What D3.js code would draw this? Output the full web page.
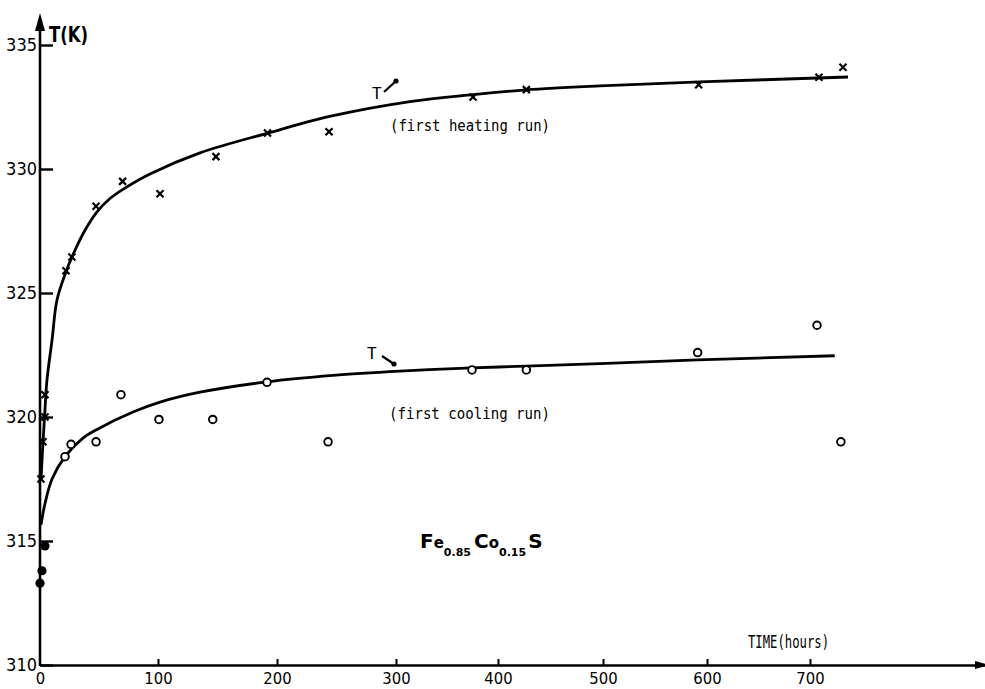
<!DOCTYPE html>
<html>
<head>
<meta charset="utf-8">
<script src="https://cdn.jsdelivr.net/npm/d3@7"></script>
<style>
  html, body { margin: 0; padding: 0; background: #fff; }
  svg { display: block; }
  .tick-label { font-family: "Liberation Sans Narrow", "DejaVu Sans Condensed", "Liberation Sans", sans-serif; fill: #000; }
  .mono { font-family: "DejaVu Sans Mono", "Liberation Mono", monospace; fill: #000; }
</style>
</head>
<body>
<div id="chart"></div>
<script>
// axis ticks (hand drawn axis, tick spacing is not quite even)
const xTicks = [0, 100, 200, 300, 400, 500, 600, 700];
const yTicks = [310, 315, 320, 325, 330, 335];

// first heating run, measured points (time h, T K)
const heatTime = [0.8, 2.5, 4.2, 4.2, 22, 27, 47.5, 70, 101.7, 148.7, 192, 243.7, 375.5, 427, 592, 708.7, 732];
const heatTemp = [317.5, 319, 320, 320.9, 325.9, 326.45, 328.5, 329.5, 329, 330.5, 331.45, 331.5, 332.9, 333.2, 333.4, 333.7, 334.1];

// first heating run, drawn curve
const heatCurveTime = [0.85, 2.5, 4.2, 5.9, 10.2, 14.4, 22, 27.1, 37.3, 48.3, 59.3, 70.3, 93.2, 135.3, 192.4, 246.2, 313.7, 375.5, 426.7, 497.1, 593.3, 736.9];
const heatCurveTemp = [317.46, 318.95, 320.28, 321.49, 323.1, 324.72, 325.85, 326.45, 327.46, 328.27, 328.81, 329.18, 329.8, 330.65, 331.45, 332.14, 332.72, 333.0, 333.19, 333.35, 333.51, 333.71];

// first cooling run, measured points
const coolTime = [21.2, 26.3, 47.5, 68.6, 100.8, 146, 191.6, 242.9, 374.5, 427, 591, 706.8, 730];
const coolTemp = [318.4, 318.9, 319, 320.9, 319.9, 319.9, 321.4, 319, 321.9, 321.9, 322.6, 323.7, 319];

// starting points on the axis (filled)
const startTime = [4.2, 1.7, 0];
const startTemp = [314.8, 313.8, 313.3];

// first cooling run, drawn curve
const coolCurveTime = [0.85, 4.2, 10.2, 21.2, 36.4, 48.3, 78.8, 101.7, 135.3, 191.6, 247, 304, 374.5, 427, 497, 591, 724];
const coolCurveTemp = [315.65, 316.5, 317.5, 318.4, 319.15, 319.5, 320.2, 320.6, 321.0, 321.42, 321.68, 321.85, 321.98, 322.05, 322.15, 322.3, 322.47];

const width = 985, height = 689;

const svg = d3.select('#chart')
    .append('svg')
    .attr('width', width)
    .attr('height', height);

// piecewise scale follows the uneven tick spacing of the original axis
const x = d3.scaleLinear()
    .domain(xTicks.concat([870]))
    .range([40, 158, 277, 396, 498, 603, 707, 810, 985]);

const y = d3.scaleLinear()
    .domain([310, 335])
    .range([665, 45]);

// x axis
const xAxis = svg.append('g')
    .attr('transform', `translate(0, ${y(310)})`)
    .call(d3.axisBottom(x)
        .tickValues(xTicks)
        .tickSize(-6)
        .tickSizeOuter(0)
        .tickFormat(d3.format('d')));
xAxis.attr('font-family', null).attr('font-size', null);
xAxis.select('.domain').attr('stroke', '#000').attr('stroke-width', 2.6);
xAxis.selectAll('.tick line')
    .attr('stroke', '#000')
    .attr('stroke-width', 2)
    .attr('opacity', d => d === 0 ? 0 : 1);
xAxis.selectAll('.tick text')
    .attr('class', 'tick-label')
    .attr('y', 19)
    .attr('dy', 0)
    .style('font-size', '16.5px');

// y axis
const yAxis = svg.append('g')
    .attr('transform', `translate(${x(0)}, 0)`)
    .call(d3.axisLeft(y)
        .tickValues(yTicks)
        .tickSize(-13)
        .tickSizeOuter(0)
        .tickFormat(d3.format('d')));
yAxis.attr('font-family', null).attr('font-size', null);
yAxis.select('.domain').remove();
yAxis.selectAll('.tick line').attr('stroke', '#000').attr('stroke-width', 2.4);
yAxis.selectAll('.tick text')
    .attr('class', 'tick-label')
    .attr('x', -3)
    .style('font-size', '18px');

svg.append('line')
    .attr('x1', x(0)).attr('x2', x(0))
    .attr('y1', y(310) + 1).attr('y2', 24)
    .attr('stroke', '#000')
    .attr('stroke-width', 2.6);

// arrow heads
svg.append('path')
    .attr('d', `M${x(0)},13 L${x(0) - 5},31 L${x(0) + 5},31 Z`)
    .attr('fill', '#000');
svg.append('path')
    .attr('d', `M${width + 4},${y(310)} L${width - 10},${y(310) - 4} L${width - 10},${y(310) + 4} Z`)
    .attr('fill', '#000');

svg.append('text')
    .attr('x', 49)
    .attr('y', 42)
    .attr('textLength', 39)
    .attr('lengthAdjust', 'spacingAndGlyphs')
    .style('font-family', '"Liberation Sans Narrow", "DejaVu Sans Condensed", sans-serif')
    .style('font-size', '21px')
    .style('font-weight', 'bold')
    .text('T(K)');

// curves
const line = d3.line()
    .x(d => x(d[0]))
    .y(d => y(d[1]))
    .curve(d3.curveCatmullRom.alpha(0.5));

svg.append('path')
    .datum(d3.zip(heatCurveTime, heatCurveTemp))
    .attr('d', line)
    .attr('fill', 'none')
    .attr('stroke', '#000')
    .attr('stroke-width', 2.8);

svg.append('path')
    .datum(d3.zip(coolCurveTime, coolCurveTemp))
    .attr('d', line)
    .attr('fill', 'none')
    .attr('stroke', '#000')
    .attr('stroke-width', 2.8);

// heating markers (x)
svg.selectAll('.heat')
    .data(d3.zip(heatTime, heatTemp))
    .enter()
    .append('path')
    .attr('class', 'heat')
    .attr('transform', d => `translate(${x(d[0])}, ${y(d[1])})`)
    .attr('d', 'M-3.5,-3.5L3.5,3.5M-3.5,3.5L3.5,-3.5')
    .attr('stroke', '#000')
    .attr('stroke-width', 2.2);

// cooling markers (o)
svg.selectAll('.cool')
    .data(d3.zip(coolTime, coolTemp))
    .enter()
    .append('circle')
    .attr('class', 'cool')
    .attr('cx', d => x(d[0]))
    .attr('cy', d => y(d[1]))
    .attr('r', 3.8)
    .attr('fill', '#fff')
    .attr('stroke', '#000')
    .attr('stroke-width', 1.9);

svg.selectAll('.start')
    .data(d3.zip(startTime, startTemp))
    .enter()
    .append('circle')
    .attr('class', 'start')
    .attr('cx', d => x(d[0]))
    .attr('cy', d => y(d[1]))
    .attr('r', 4.6)
    .attr('fill', '#000');

// annotations
function tArrow(tx, ty, x1, y1, x2, y2) {
    svg.append('text')
        .attr('class', 'mono')
        .attr('x', tx)
        .attr('y', ty)
        .style('font-size', '16px')
        .text('T');
    svg.append('line')
        .attr('x1', x1).attr('y1', y1)
        .attr('x2', x2).attr('y2', y2)
        .attr('stroke', '#000')
        .attr('stroke-width', 2.2);
    svg.append('circle')
        .attr('cx', x2).attr('cy', y2)
        .attr('r', 2.6)
        .attr('fill', '#000');
}
tArrow(372, 99, 384, 92, 396, 81);
tArrow(367, 359, 382, 356, 394, 364);

svg.append('text')
    .attr('class', 'mono')
    .attr('x', 390)
    .attr('y', 131)
    .attr('textLength', 160)
    .attr('lengthAdjust', 'spacingAndGlyphs')
    .style('font-size', '15px')
    .text('(first heating run)');

svg.append('text')
    .attr('class', 'mono')
    .attr('x', 389)
    .attr('y', 419)
    .attr('textLength', 161)
    .attr('lengthAdjust', 'spacingAndGlyphs')
    .style('font-size', '15px')
    .text('(first cooling run)');

svg.append('text')
    .attr('class', 'mono')
    .attr('x', 748)
    .attr('y', 648)
    .attr('textLength', 81)
    .attr('lengthAdjust', 'spacingAndGlyphs')
    .style('font-size', '17px')
    .text('TIME(hours)');

// compound label
const formula = svg.append('text')
    .attr('x', 420)
    .attr('y', 548)
    .style('font-family', '"DejaVu Sans", sans-serif')
    .style('font-weight', 'bold')
    .style('font-size', '20px');
formula.append('tspan').text('F');
formula.append('tspan').style('font-size', '15px').text('e');
formula.append('tspan').attr('dy', 8).style('font-size', '11px').text('0.85');
formula.append('tspan').attr('dy', -8).attr('dx', 3).text('C');
formula.append('tspan').style('font-size', '15px').text('o');
formula.append('tspan').attr('dy', 8).style('font-size', '11px').text('0.15');
formula.append('tspan').attr('dy', -8).attr('dx', 2).text('S');
</script>
</body>
</html>
